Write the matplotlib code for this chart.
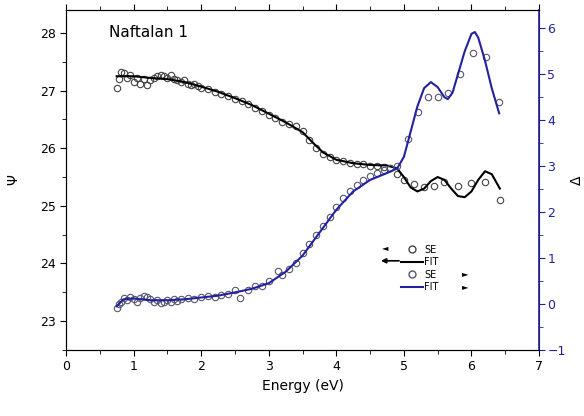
import matplotlib.pyplot as plt
from matplotlib.lines import Line2D
from matplotlib.ticker import MultipleLocator

# Psi (SE data, left axis)
psi_e = [0.75, 0.78, 0.82, 0.86, 0.9, 0.95, 1.0, 1.05, 1.1, 1.15, 1.2, 1.25, 1.3, 1.35,
         1.4, 1.45, 1.5, 1.55, 1.6, 1.65, 1.7, 1.75, 1.8, 1.85, 1.9, 1.95, 2.0, 2.1, 2.2,
         2.3, 2.4, 2.5, 2.6, 2.7, 2.8, 2.9, 3.0, 3.1, 3.2, 3.3, 3.4, 3.5, 3.6, 3.7, 3.8,
         3.9, 4.0, 4.1, 4.2, 4.3, 4.4, 4.5, 4.6, 4.7, 4.8, 4.9, 5.0, 5.15, 5.3, 5.45,
         5.6, 5.8, 6.0, 6.2, 6.42]
psi = [27.05, 27.2, 27.32, 27.3, 27.22, 27.28, 27.15, 27.22, 27.12, 27.2, 27.1, 27.18,
       27.22, 27.26, 27.28, 27.25, 27.22, 27.27, 27.2, 27.18, 27.15, 27.18, 27.12, 27.1,
       27.12, 27.08, 27.05, 27.02, 26.98, 26.95, 26.9, 26.85, 26.82, 26.76, 26.7, 26.65,
       26.58, 26.52, 26.45, 26.42, 26.38, 26.3, 26.15, 26.0, 25.9, 25.84, 25.8, 25.78,
       25.75, 25.72, 25.72, 25.7, 25.7, 25.68, 25.66, 25.55, 25.45, 25.38, 25.32, 25.35,
       25.42, 25.35, 25.4, 25.42, 25.1]

# Psi fit
psi_fit_e = [0.75, 1.0, 1.25, 1.5, 1.75, 2.0, 2.25, 2.5, 2.75, 3.0, 3.25, 3.5, 3.65, 3.8,
             4.0, 4.25, 4.5, 4.75, 4.9, 5.0, 5.1, 5.2, 5.3, 5.4, 5.5, 5.6, 5.7, 5.8, 5.9,
             6.0, 6.1, 6.2, 6.3, 6.42]
psi_fit = [27.25, 27.25, 27.22, 27.2, 27.15, 27.07, 26.98, 26.87, 26.75, 26.6, 26.45,
           26.28, 26.1, 25.93, 25.8, 25.74, 25.71, 25.7, 25.65, 25.5, 25.32, 25.25, 25.3,
           25.43, 25.5, 25.45, 25.3, 25.17, 25.15, 25.25, 25.45, 25.6, 25.55, 25.3]

# Delta (SE data, right axis)
delta_e = [0.75, 0.78, 0.82, 0.86, 0.9, 0.95, 1.0, 1.05, 1.1, 1.15, 1.2, 1.25, 1.3, 1.35,
           1.4, 1.45, 1.5, 1.55, 1.6, 1.65, 1.7, 1.8, 1.9, 2.0, 2.1, 2.2, 2.3, 2.4, 2.5,
           2.57, 2.7, 2.8, 2.9, 3.0, 3.13, 3.2, 3.3, 3.4, 3.5, 3.6, 3.7, 3.8, 3.9, 4.0,
           4.1, 4.2, 4.3, 4.4, 4.5, 4.6, 4.7, 4.8, 4.9, 5.06, 5.21, 5.36, 5.5, 5.66, 5.83,
           6.02, 6.21, 6.41]
delta = [-0.08, 0.0, 0.05, 0.12, 0.08, 0.15, 0.1, 0.05, 0.12, 0.18, 0.15, 0.1, 0.05,
         0.08, 0.02, 0.05, 0.08, 0.05, 0.1, 0.06, 0.1, 0.12, 0.1, 0.15, 0.18, 0.15, 0.2,
         0.22, 0.3, 0.13, 0.3, 0.38, 0.4, 0.5, 0.72, 0.62, 0.75, 0.9, 1.1, 1.3, 1.5, 1.7,
         1.9, 2.1, 2.3, 2.45, 2.6, 2.7, 2.78, 2.85, 2.92, 2.95, 3.0, 3.6, 4.17, 4.5, 4.5,
         4.59, 5.0, 5.46, 5.37, 4.39]

# Delta fit
delta_fit_e = [0.75, 0.85, 1.0, 1.25, 1.5, 1.75, 2.0, 2.25, 2.5, 2.75, 3.0, 3.25, 3.5,
               3.75, 4.0, 4.25, 4.5, 4.75, 4.9, 5.0, 5.1, 5.2, 5.3, 5.4, 5.5, 5.6, 5.65,
               5.72, 5.8, 5.9, 6.0, 6.05, 6.1, 6.2, 6.3, 6.41]
delta_fit = [-0.05, 0.1, 0.12, 0.08, 0.08, 0.1, 0.14, 0.18, 0.25, 0.33, 0.45, 0.7, 1.05,
             1.55, 2.05, 2.45, 2.7, 2.85, 2.95, 3.2, 3.75, 4.3, 4.7, 4.83, 4.72, 4.5,
             4.46, 4.6, 5.0, 5.5, 5.88, 5.92, 5.8, 5.3, 4.7, 4.15]

blue = '#2222a0'

fig = plt.figure(figsize=(5.84, 4.16), dpi=100)
ax = fig.add_axes([0.113, 0.159, 0.81, 0.817])
ax2 = ax.twinx()

ax.plot(psi_e, psi, 'o', mfc='none', mec='#444444', ms=4.6, mew=0.8)
ax.plot(psi_fit_e, psi_fit, '-', color='black', lw=1.5)
ax2.plot(delta_e, delta, 'o', mfc='none', mec='#555570', ms=4.6, mew=0.8)
ax2.plot(delta_fit_e, delta_fit, '-', color=blue, lw=1.5)

ax.set_xlim(0, 7)
ax.set_ylim(22.5, 28.4)
ax2.set_ylim(-1, 6.4)

ax.xaxis.set_major_locator(MultipleLocator(1))
ax.xaxis.set_minor_locator(MultipleLocator(0.5))
ax.yaxis.set_major_locator(MultipleLocator(1))
ax.yaxis.set_minor_locator(MultipleLocator(0.5))
ax2.yaxis.set_major_locator(MultipleLocator(1))
ax2.yaxis.set_minor_locator(MultipleLocator(0.5))

ax.tick_params(which='both', direction='out', labelsize=9, top=True)
ax.tick_params(which='major', length=4)
ax.tick_params(which='minor', length=3)
ax2.tick_params(which='both', direction='out', colors=blue, labelsize=9, pad=2)
ax2.tick_params(which='major', length=4)
ax2.tick_params(which='minor', length=3)
ax2.spines['right'].set_color(blue)
ax2.spines['right'].set_linewidth(1.2)

ax.set_xlabel('Energy (eV)', fontsize=10)
ax.set_ylabel('Ψ', fontsize=10, labelpad=14)
ax2.set_ylabel('Δ', fontsize=10, color='black', labelpad=3)

ax.text(0.09, 0.92, 'Naftalan 1', transform=ax.transAxes, fontsize=11)

handles = [
    Line2D([], [], ls='none', marker='o', mfc='none', mec='#444444', ms=5),
    Line2D([], [], color='black', lw=1.5),
    Line2D([], [], ls='none', marker='o', mfc='none', mec='#555570', ms=5),
    Line2D([], [], color=blue, lw=1.5),
]
ax2.legend(handles, ['SE', 'FIT', 'SE', 'FIT'], loc='upper left',
           bbox_to_anchor=(0.69, 0.335), frameon=False, fontsize=7,
           handlelength=2.2, labelspacing=0.25, handletextpad=0.2)

ax.text(0.668, 0.30, '◄', transform=ax.transAxes, fontsize=6, va='center')
ax.annotate('', xy=(0.66, 0.262), xytext=(0.71, 0.262), xycoords='axes fraction',
            arrowprops=dict(arrowstyle='-|>', color='black', lw=1.2, mutation_scale=7))
ax.text(0.837, 0.224, '►', transform=ax.transAxes, fontsize=6, va='center')
ax.text(0.837, 0.185, '►', transform=ax.transAxes, fontsize=6, va='center')

fig.savefig('out.png', dpi=100)
